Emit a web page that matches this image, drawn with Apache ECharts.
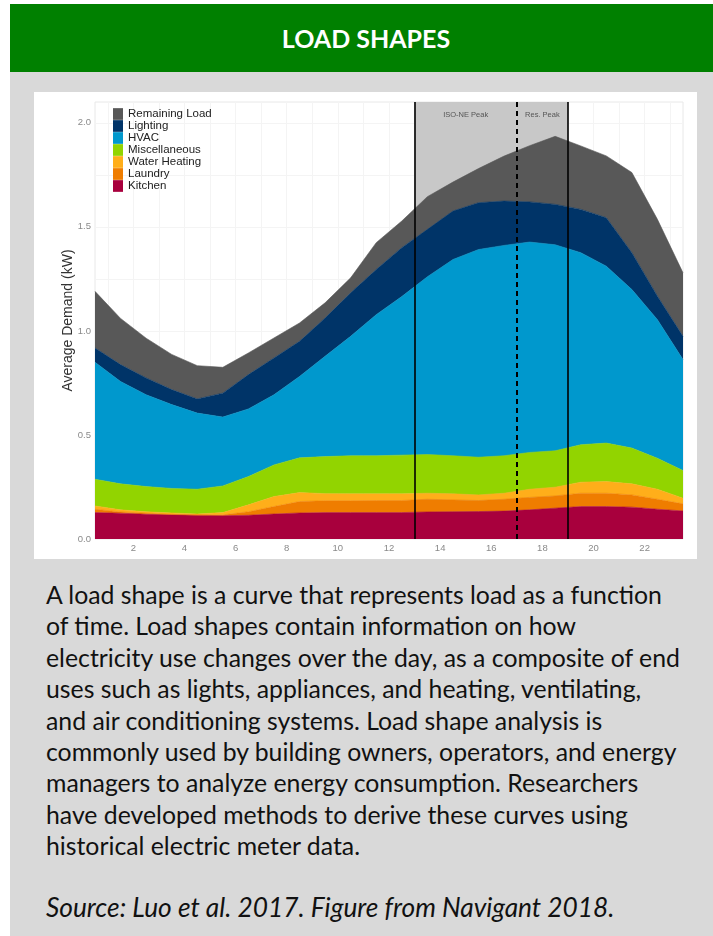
<!DOCTYPE html>
<html><head><meta charset="utf-8">
<script src="https://cdn.jsdelivr.net/npm/echarts@6/dist/echarts.min.js"></script>
<style>
html,body{margin:0;padding:0;background:#fff;width:713px;height:936px;overflow:hidden;}
#card{position:absolute;left:10px;top:4px;width:703px;height:932px;background:#d9d9d9;}
#hdr{position:absolute;left:0;top:0;width:703px;height:68px;background:#008000;color:#fff;font-family:Lato,sans-serif;font-weight:bold;font-size:25px;line-height:68px;}
#hdr span{position:absolute;left:0;width:712px;text-align:center;}
#chart{position:absolute;left:24px;top:88px;width:663px;height:467px;background:#fff;}
#txt{position:absolute;left:36px;top:575px;font-family:Lato,sans-serif;font-size:24.8px;line-height:31.4px;color:#111;white-space:nowrap;}
#src{position:absolute;left:36px;top:888px;font-family:Lato,sans-serif;font-style:italic;font-size:26.3px;line-height:31.4px;color:#111;white-space:nowrap;}
</style>
</head><body>
<div id="card">
  <div id="hdr"><span>LOAD SHAPES</span></div>
  <div id="chart"></div>
  <div id="txt">A load shape is a curve that represents load as a function<br>of time. Load shapes contain information on how<br>electricity use changes over the day, as a composite of end<br>uses such as lights, appliances, and heating, ventilating,<br>and air conditioning systems. Load shape analysis is<br>commonly used by building owners, operators, and energy<br>managers to analyze energy consumption. Researchers<br>have developed methods to derive these curves using<br>historical electric meter data.</div>
  <div id="src">Source: Luo et al. 2017. Figure from Navigant 2018.</div>
</div>
<script>
// ---- data ----
const hours = [0.5,1.5,2.5,3.5,4.5,5.5,6.5,7.5,8.5,9.5,10.5,11.5,12.5,13.5,14.5,15.5,16.5,17.5,18.5,19.5,20.5,21.5,22.5,23.5];
const kitchen      = [0.127,0.124,0.119,0.116,0.114,0.112,0.114,0.120,0.125,0.127,0.127,0.127,0.127,0.130,0.131,0.132,0.134,0.140,0.148,0.156,0.156,0.153,0.143,0.135];
const laundry      = [0.016,0.006,0.005,0.002,0.001,0.004,0.017,0.036,0.055,0.057,0.057,0.058,0.058,0.061,0.057,0.053,0.057,0.060,0.059,0.064,0.064,0.059,0.048,0.034];
const waterHeating = [0.016,0.010,0.007,0.007,0.005,0.011,0.033,0.048,0.043,0.034,0.033,0.032,0.032,0.029,0.029,0.027,0.029,0.039,0.042,0.053,0.056,0.053,0.048,0.027];
const misc         = [0.128,0.125,0.121,0.118,0.119,0.128,0.136,0.152,0.167,0.178,0.183,0.183,0.186,0.186,0.183,0.181,0.180,0.177,0.175,0.180,0.185,0.172,0.149,0.133];
const hvac         = [0.562,0.492,0.441,0.403,0.366,0.331,0.325,0.337,0.391,0.482,0.574,0.678,0.762,0.854,0.943,0.998,1.011,1.011,0.990,0.923,0.850,0.762,0.666,0.533];
const lighting     = [0.069,0.081,0.081,0.072,0.068,0.115,0.165,0.177,0.169,0.184,0.209,0.217,0.235,0.228,0.233,0.225,0.213,0.193,0.194,0.208,0.233,0.177,0.113,0.112];
const remaining    = [0.272,0.222,0.191,0.169,0.160,0.124,0.104,0.096,0.088,0.073,0.072,0.129,0.128,0.157,0.139,0.164,0.216,0.270,0.327,0.305,0.297,0.385,0.369,0.305];
const seriesNames  = ['Kitchen','Laundry','Water Heating','Miscellaneous','HVAC','Lighting','Remaining Load'];
const legendOrder  = ['Remaining Load','Lighting','HVAC','Miscellaneous','Water Heating','Laundry','Kitchen'];
const xTicks = [2,4,6,8,10,12,14,16,18,20,22];
const xGrid  = [1,2,3,4,5,6,7,8,9,10,11,12,13,14,15,16,17,18,19,20,21,22,23];
const yTicks = [0,0.5,1,1.5,2];
const yGrid  = [0,0.25,0.5,0.75,1,1.25,1.5,1.75,2];
const isoPeak = [13,17];
const resPeak = [17,19];
const peakLabels = ['ISO-NE Peak','Res. Peak'];

// ---- styles ----
const colors = {
  'Kitchen':'#a8003d','Laundry':'#ef7d00','Water Heating':'#ffae1a','Miscellaneous':'#92d400',
  'HVAC':'#0098cd','Lighting':'#003468','Remaining Load':'#585858'
};
const valueSets = [kitchen,laundry,waterHeating,misc,hvac,lighting,remaining];

// value first so that the stack is applied to the y value (encode maps dims to axes)
const series = seriesNames.map((name,k)=>({
  name, type:'line', stack:'total', symbol:'none', z:2,
  data: hours.map((h,i)=>[valueSets[k][i], h]),
  encode:{x:1,y:0},
  lineStyle:{width:0.6,color:colors[name]},
  areaStyle:{color:colors[name],opacity:1},
  itemStyle:{color:colors[name]},
  silent:true
}));

// shading behind areas
series.unshift({
  name:'_shade', type:'line', symbol:'none', z:1, silent:true,
  data: hours.map(h=>[0,h]), encode:{x:1,y:0}, lineStyle:{opacity:0},
  markArea:{
    silent:true,
    itemStyle:{color:'#c8c8c8'},
    label:{show:true,position:'insideTop',distance:9,color:'#555',fontSize:7.5,fontFamily:'Liberation Sans'},
    data:[
      [{xAxis:isoPeak[0],name:peakLabels[0]},{xAxis:isoPeak[1]}],
      [{xAxis:resPeak[0],name:peakLabels[1]},{xAxis:resPeak[1]}]
    ]
  }
});
// peak lines on top
series.push({
  name:'_lines', type:'line', symbol:'none', z:10, silent:true,
  data: hours.map(h=>[0,h]), encode:{x:1,y:0}, lineStyle:{opacity:0},
  markLine:{
    silent:true, symbol:['none','none'], label:{show:false},
    lineStyle:{color:'#000',width:1.6,type:'solid'},
    data:[
      {xAxis:isoPeak[0]},
      {xAxis:resPeak[1]},
      {xAxis:isoPeak[1],lineStyle:{type:[5,4],width:2,color:'#000'}}
    ]
  }
});

const chart = echarts.init(document.getElementById('chart'),null,{renderer:'canvas'});
chart.setOption({
  animation:false,
  backgroundColor:'#fff',
  grid:{left:61,top:10,right:14,bottom:20,show:true,borderColor:'#e8e8e8',borderWidth:1,backgroundColor:'#fff'},
  legend:{
    orient:'vertical', left:79, top:16, padding:0, itemGap:0, itemWidth:10, itemHeight:11.7,
    icon:'rect', data:legendOrder,
    textStyle:{fontFamily:'Liberation Sans',fontSize:11.5,color:'#222',lineHeight:11.7}
  },
  xAxis:{
    type:'value', min:0.5, max:23.5, interval:0.5,
    axisLine:{show:false},
    axisTick:{show:false,customValues:xGrid},
    axisLabel:{customValues:xTicks,color:'#8a8a8a',fontSize:9.5,fontFamily:'Liberation Sans',margin:4},
    splitLine:{show:true,lineStyle:{color:'#f4f4f4',width:1}}
  },
  yAxis:{
    type:'value', min:0, max:2.1, interval:0.25,
    name:'Average Demand (kW)', nameLocation:'middle', nameGap:20, nameMoveOverlap:false,
    nameTextStyle:{fontFamily:'Liberation Sans',fontSize:14,color:'#333'},
    axisLine:{show:false},
    axisTick:{show:false,customValues:yGrid},
    axisLabel:{customValues:yTicks,formatter:v=>v.toFixed(1),color:'#8a8a8a',fontSize:9.5,fontFamily:'Liberation Sans',margin:4},
    splitLine:{show:true,lineStyle:{color:'#f4f4f4',width:1}}
  },
  series
});
</script>
</body></html>
